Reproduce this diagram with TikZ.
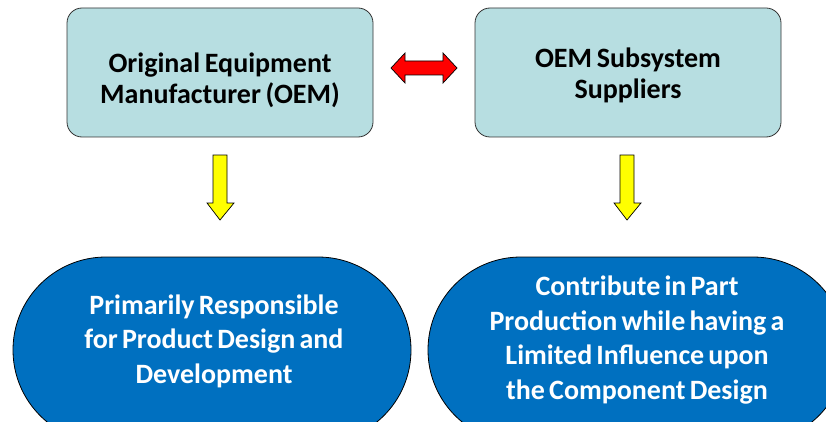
\documentclass[tikz,border=0pt]{standalone}
\usepackage{fontspec}
\setmainfont{Carlito}
\definecolor{boxfill}{RGB}{183,222,225}
\definecolor{bluefill}{RGB}{0,112,192}
\definecolor{arrowred}{RGB}{255,0,0}
\definecolor{arrowyellow}{RGB}{255,255,0}
\newcommand\topfnt{\bfseries\fontsize{28}{31}\selectfont\spaceskip=0.17em\relax}
\newcommand\botfnt{\bfseries\fontsize{28}{34.5}\selectfont\spaceskip=0.15em\relax}
\begin{document}
\begin{tikzpicture}[x=1pt,y=1pt,
  topbox/.style={draw=black!80, line width=0.8pt, fill=boxfill, rounded corners=15pt},
  pill/.style={draw=black, line width=0.8pt, fill=bluefill, rounded corners=93pt},
  toptext/.style={align=center, font=\topfnt, text=black},
  bottext/.style={align=center, font=\botfnt, text=white},
  blockarrow/.style={draw=black, line width=0.7pt, line join=miter}]
\useasboundingbox (0,0) rectangle (826,421);
\fill[white] (0,0) rectangle (826,421);
% top boxes
\draw[topbox] (67,284) rectangle (373,413);
\draw[topbox] (475,284) rectangle (781,413);
\node[toptext] (oem) at (220,341) {Original Equipment\\Manufacturer (OEM)};
\node[toptext] (sup) at (628,346) {OEM Subsystem\\Suppliers};
% bottom pills
\begin{scope}
\clip (0,0) rectangle (826,421);
\draw[pill] (13,-22) rectangle (411,164);
\draw[pill] (428,-22) rectangle (846,164);
\end{scope}
\node[bottext] (resp) at (214,80) {Primarily Responsible\\for Product Design and\\Development};
\node[bottext] (contr) at (637,81) {Contribute in Part\\Production while having a\\Limited Influence upon\\the Component Design};
% red double arrow
\coordinate (dl) at (391,353);
\coordinate (dr) at (457,353);
\draw[blockarrow, fill=arrowred] (dl) -- (405,368) -- (405,360) -- (443,360) -- (443,368) -- (dr) -- (443,338) -- (443,346) -- (405,346) -- (405,338) -- cycle;
% yellow arrows
\coordinate (y1) at (220,201);
\draw[blockarrow, fill=arrowyellow] (213,266) -- (227,266) -- (227,218) -- (234,218) -- (y1) -- (207,218) -- (213,218) -- cycle;
\coordinate (y2) at (627,201);
\draw[blockarrow, fill=arrowyellow] (620,266) -- (634,266) -- (634,218) -- (641,218) -- (y2) -- (614,218) -- (620,218) -- cycle;
\end{tikzpicture}
\end{document}
